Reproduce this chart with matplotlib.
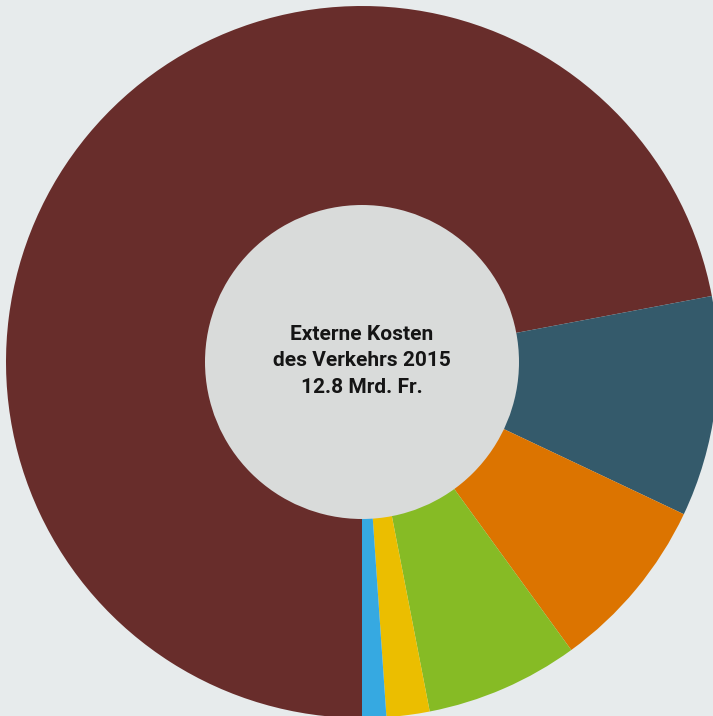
import matplotlib.pyplot as plt
from matplotlib.patches import Circle

# Externe Kosten des Verkehrs 2015, Anteile in Mrd. Fr.
werte = [9.22, 1.28, 1.02, 0.89, 0.25, 0.14]
farben = ['#682d2b', '#345a6b', '#dc7400', '#86bb25', '#ebbe00', '#36a9e1']
titel = "Externe Kosten\ndes Verkehrs 2015\n12.8 Mrd. Fr."

fig = plt.figure(figsize=(7.13, 7.16), dpi=100)
fig.patch.set_facecolor('#e7ebec')
ax = fig.add_axes([0, 0, 1, 1])
ax.set_facecolor('#e7ebec')

cx, cy = 362, 716 - 362
ax.pie(werte, colors=farben, startangle=270, counterclock=False,
       radius=356, center=(cx, cy), frame=True,
       wedgeprops=dict(width=200, linewidth=0))
ax.add_patch(Circle((cx, cy), 157, facecolor='#d9dbda', edgecolor='none'))

ax.text(cx, cy + 1, titel, ha='center', va='center', fontsize=15,
        family='Roboto', weight='bold', color='#151515', linespacing=1.5)

ax.set_xlim(0, 713)
ax.set_ylim(0, 716)
ax.set_aspect('equal')
ax.axis('off')

fig.savefig('out.png', dpi=100, facecolor=fig.get_facecolor())
